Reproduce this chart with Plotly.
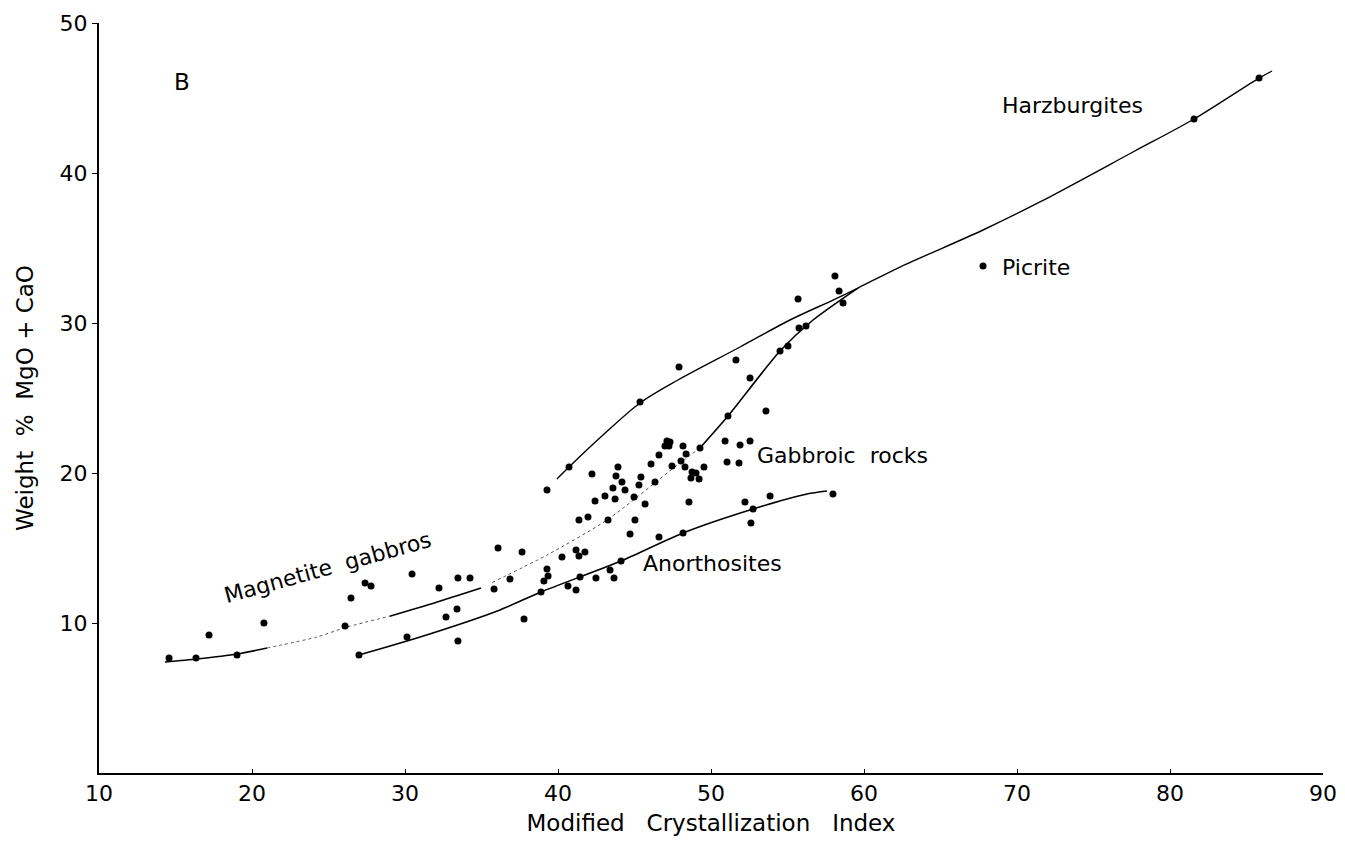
# Weight % MgO + CaO against modified crystallization index (panel B)

import plotly.graph_objects as go

# sample points (modified crystallization index, wt% MgO + CaO)
mci = [
    14.58, 16.34, 17.19, 19.02, 20.78, 26.08, 26.47, 27.39, 27.78, 26.99,
    30.13, 30.46, 32.22, 32.68, 33.40, 33.46, 34.25, 33.46, 35.82, 36.08,
    36.86, 37.65, 37.78, 38.89, 39.08, 39.35, 39.28, 39.28, 40.26, 41.18,
    41.76, 41.37, 40.65, 41.18, 41.44, 42.48, 43.40, 43.66, 44.12, 41.37,
    41.96, 43.27, 44.71, 45.03, 46.60, 48.17, 40.72, 42.22, 43.79, 43.92,
    44.18, 43.59, 44.38, 43.07, 43.73, 42.42, 45.42, 45.29, 44.97, 45.69,
    46.08, 46.60, 46.34, 45.36, 47.91, 47.12, 47.32, 46.99, 47.25, 47.45,
    48.17, 48.37, 48.04, 48.30, 49.54, 48.76, 49.02, 48.69, 49.22, 49.28,
    48.56, 50.92, 51.90, 52.55, 51.05, 51.83, 52.22, 53.86, 52.61, 52.75,
    57.97, 51.11, 51.63, 52.55, 53.59, 54.51, 55.03, 55.75, 56.21, 55.69,
    58.10, 58.37, 58.63, 67.78, 81.57, 85.82,
]
mgo_cao = [
    7.67, 7.67, 9.20, 7.87, 10.00, 9.80, 11.67, 12.67, 12.47, 7.87,
    9.07, 13.27, 12.33, 10.40, 10.93, 13.00, 13.00, 8.80, 12.27, 15.00,
    12.93, 14.73, 10.27, 12.07, 12.80, 13.13, 13.60, 18.87, 14.40, 14.87,
    14.73, 14.47, 12.47, 12.20, 13.07, 13.00, 13.53, 13.00, 14.13, 16.87,
    17.07, 16.87, 15.93, 16.87, 15.73, 16.00, 20.40, 19.93, 19.80, 20.40,
    19.40, 19.00, 18.87, 18.47, 18.27, 18.13, 19.73, 19.20, 18.40, 17.93,
    20.60, 21.20, 19.40, 24.73, 27.07, 22.13, 22.07, 21.80, 21.80, 20.47,
    21.80, 21.27, 20.80, 20.40, 20.40, 20.07, 20.00, 19.67, 19.60, 21.67,
    18.07, 22.13, 21.87, 22.13, 20.73, 20.67, 18.07, 18.47, 16.67, 17.60,
    18.60, 23.80, 27.53, 26.33, 24.13, 28.13, 28.47, 29.67, 29.80, 31.60,
    33.13, 32.13, 31.33, 33.80, 43.60, 46.33,
]

# hand-drawn trend curves
# magnetite gabbro -> gabbroic rocks curve, split where the pen style changes
mag_solid1_x = [14.31, 16.41, 19.02, 20.98]
mag_solid1_y = [7.40, 7.60, 7.93, 8.33]
mag_dot1_x = [20.98, 24.25, 26.21, 29.00]
mag_dot1_y = [8.33, 9.07, 9.73, 10.45]
mag_solid2_x = [29.00, 31.96, 34.97]
mag_solid2_y = [10.45, 11.35, 12.33]
mag_dot2_x = [35.70, 39.28, 43.20, 47.97, 49.28]
mag_dot2_y = [12.70, 14.53, 16.87, 20.67, 21.67]
gab_solid_x = [49.28, 51.11, 54.51, 56.67, 59.60]
gab_solid_y = [21.67, 23.80, 28.13, 30.20, 32.33]

# upper curve running on into the harzburgites
harz_x = [39.93, 40.72, 42.94, 45.36, 47.84, 51.90, 55.16, 57.97, 59.60, 62.35, 67.78, 71.50, 77.58, 81.57, 85.82, 86.67]
harz_y = [19.60, 20.40, 22.53, 24.67, 26.20, 28.40, 30.20, 31.53, 32.33, 33.73, 36.20, 38.07, 41.40, 43.60, 46.33, 46.80]

# anorthosite curve
anor_x = [26.99, 30.78, 36.21, 38.89, 44.12, 48.17, 52.75, 56.27, 57.58]
anor_y = [7.87, 9.00, 10.87, 12.07, 14.13, 16.00, 17.60, 18.60, 18.80]

# rock group labels
label_text = ["Harzburgites", "Picrite", "Gabbroic  rocks", "Anorthosites", "Magnetite  gabbros"]
label_x = [68.9, 68.9, 52.9, 45.4, 24.97]
label_y = [44.5, 33.7, 21.2, 14.0, 13.67]
label_angle = [0, 0, 0, 0, -15.5]
label_anchor = ["left", "left", "left", "left", "center"]

INK = "black"
FAINT = "#555555"

fig = go.Figure()

def add_curve(xs, ys, dash="solid", width=1.6, color=INK, smooth=0.7):
    fig.add_trace(go.Scatter(
        x=xs, y=ys, mode="lines",
        line=dict(color=color, width=width, dash=dash, shape="spline", smoothing=smooth),
        hoverinfo="skip",
    ))

add_curve(mag_solid1_x, mag_solid1_y)
add_curve(mag_dot1_x, mag_dot1_y, dash="dot", width=1, color=FAINT)
add_curve(mag_solid2_x, mag_solid2_y)
add_curve(mag_dot2_x, mag_dot2_y, dash="dot", width=1, color=FAINT)
add_curve(gab_solid_x, gab_solid_y)
add_curve(harz_x, harz_y, width=1.4, smooth=0.9)
add_curve(anor_x, anor_y)

fig.add_trace(go.Scatter(
    x=mci, y=mgo_cao, mode="markers",
    marker=dict(color=INK, size=7),
    hovertemplate="MCI: %{x:.1f}<br>MgO + CaO: %{y:.1f}<extra></extra>",
))

for t, x, y, a, anc in zip(label_text, label_x, label_y, label_angle, label_anchor):
    fig.add_annotation(
        x=x, y=y, text=t, showarrow=False, textangle=a,
        xanchor=anc, yanchor="middle",
        font=dict(size=22, color=INK),
    )

# panel letter
fig.add_annotation(
    x=15.42, y=46.07, text="B", showarrow=False,
    font=dict(size=23, color=INK),
)

fig.update_xaxes(
    range=[10, 90], tickvals=[10, 20, 30, 40, 50, 60, 70, 80, 90],
    showline=True, linecolor=INK, linewidth=2,
    ticks="inside", ticklen=4, tickcolor=INK,
    showgrid=False, zeroline=False, automargin=False,
    tickfont=dict(size=22, color=INK),
    title=dict(text="Modified   Crystallization   Index", font=dict(size=23, color=INK), standoff=14),
)
fig.update_yaxes(
    range=[0, 50], tickvals=[10, 20, 30, 40, 50],
    showline=True, linecolor=INK, linewidth=2,
    ticks="outside", ticklen=5, tickcolor=INK,
    showgrid=False, zeroline=False, automargin=False,
    tickfont=dict(size=22, color=INK),
    title=dict(text="Weight  %  MgO + CaO", font=dict(size=23, color=INK), standoff=20),
)

# page body adds an 8px margin, so the figure is sized to fit inside it
fig.update_layout(
    width=1329, height=828,
    showlegend=False,
    plot_bgcolor="white",
    paper_bgcolor="white",
    font=dict(family="DejaVu Sans, sans-serif", color=INK),
    margin=dict(l=91, r=14, t=15, b=63),
)

fig.write_html("out.html")
